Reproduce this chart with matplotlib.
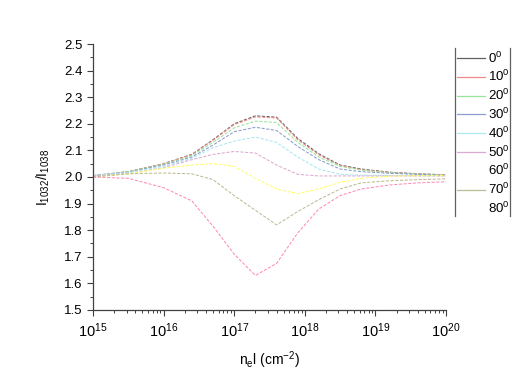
import numpy as np
import matplotlib
matplotlib.use("Agg")
import matplotlib.pyplot as plt
from matplotlib.lines import Line2D
from matplotlib.ticker import LogLocator, MultipleLocator, NullFormatter

plt.rcParams['font.family'] = ['Liberation Sans', 'DejaVu Sans']
plt.rcParams['mathtext.fontset'] = 'custom'
plt.rcParams['mathtext.rm'] = 'Liberation Sans'
plt.rcParams['mathtext.it'] = 'Liberation Sans'

# column density grid (log10 of n_e l)
log_nel = [15, 15.5, 16, 16.4, 16.7, 17.0, 17.3, 17.6, 17.9, 18.2, 18.5, 18.8, 19.2, 19.6, 20]

angles = ["0", "10", "20", "30", "40", "50", "60", "70", "80"]

ratio_0 = [2.005, 2.02, 2.05, 2.085, 2.14, 2.20, 2.23, 2.225, 2.145, 2.087, 2.045, 2.03, 2.018, 2.012, 2.008]
ratio_10 = [2.005, 2.02, 2.05, 2.084, 2.138, 2.197, 2.226, 2.222, 2.14, 2.083, 2.043, 2.028, 2.017, 2.012, 2.008]
ratio_20 = [2.005, 2.02, 2.048, 2.08, 2.13, 2.185, 2.21, 2.205, 2.13, 2.075, 2.04, 2.026, 2.016, 2.011, 2.007]
ratio_30 = [2.005, 2.018, 2.045, 2.075, 2.12, 2.17, 2.187, 2.175, 2.115, 2.065, 2.03, 2.02, 2.014, 2.01, 2.006]
ratio_40 = [2.005, 2.017, 2.04, 2.07, 2.11, 2.135, 2.15, 2.13, 2.075, 2.03, 2.01, 2.007, 2.006, 2.005, 2.005]
ratio_50 = [2.003, 2.012, 2.035, 2.065, 2.085, 2.096, 2.09, 2.045, 2.01, 2.004, 2.004, 2.004, 2.004, 2.004, 2.004]
ratio_60 = [2.0, 2.012, 2.033, 2.045, 2.05, 2.04, 1.995, 1.955, 1.937, 1.955, 1.98, 1.995, 2.003, 2.005, 2.005]
ratio_70 = [2.0, 2.012, 2.015, 2.012, 1.99, 1.93, 1.875, 1.82, 1.87, 1.915, 1.955, 1.978, 1.986, 1.99, 1.993]
ratio_80 = [2.0, 1.995, 1.96, 1.91, 1.815, 1.71, 1.63, 1.675, 1.79, 1.88, 1.93, 1.955, 1.97, 1.978, 1.982]

ratios = [ratio_0, ratio_10, ratio_20, ratio_30, ratio_40, ratio_50, ratio_60, ratio_70, ratio_80]
colors = ["#606060", "#f08888", "#9ae49a", "#8c9ccc", "#aae8f2", "#dcaad0", "#ffff66", "#bcbc96", "#ff8cb8"]
# legend swatch colours (60 and 80 show no swatch in the original)
legend_colors = ["#606060", "#f08888", "#9ae49a", "#8c9ccc", "#aae8f2", "#dcaad0", None, "#bcbc96", None]

nel = 10 ** np.array(log_nel)

fig = plt.figure(figsize=(5.18, 3.72), dpi=100)
ax = fig.add_axes([0.1795, 0.1667, 0.6815, 0.715])

for r, c in zip(ratios, colors):
  ax.plot(nel, r, color=c, lw=0.75, ls=(0, (3, 1.5)))

ax.set_xscale("log")
ax.set_xlim(1e15, 1e20)
ax.set_ylim(1.5, 2.5)
ax.xaxis.set_major_locator(LogLocator(base=10, numticks=10))
ax.xaxis.set_minor_locator(LogLocator(base=10, subs=np.arange(2, 10), numticks=20))
ax.xaxis.set_minor_formatter(NullFormatter())
ax.yaxis.set_major_locator(MultipleLocator(0.1))
ax.yaxis.set_minor_locator(MultipleLocator(0.05))
ax.yaxis.set_major_formatter(plt.FuncFormatter(lambda v, p: "%.1f" % v))

for s in ["top", "right"]:
  ax.spines[s].set_visible(False)
for s in ["left", "bottom"]:
  ax.spines[s].set_color("#404040")
  ax.spines[s].set_linewidth(0.9)
ax.tick_params(which="major", direction="out", length=4, width=0.8, color="#404040", labelsize=9.5)
ax.tick_params(which="minor", direction="out", length=2, width=0.7, color="#404040")
ax.tick_params(axis="x", pad=4, labelsize=10.5)

ax.set_ylabel(r"$\mathregular{I_{1032}/I_{1038}}$", fontsize=10, labelpad=9)
ax.set_xlabel(r"$\mathregular{n_el\ (cm^{-2})}$", fontsize=10, labelpad=7)

# legend box: two vertical rules with swatches and labels
W, H = 518.0, 372.0
fig.add_artist(Line2D([455 / W, 455 / W], [1 - 48 / H, 1 - 216 / H], color="#606060", lw=0.9))
fig.add_artist(Line2D([510 / W, 510 / W], [1 - 48 / H, 1 - 216 / H], color="#606060", lw=0.9))
for i, (a, lc) in enumerate(zip(angles, legend_colors)):
  yy = 1 - (58 + i * 18.8) / H
  if lc is not None:
    fig.add_artist(Line2D([457 / W, 485 / W], [yy, yy], color=lc, lw=0.9))
  fig.text(488 / W, yy, r"$\mathregular{%s^0}$" % a, fontsize=9.5, va="center", ha="left")

fig.savefig("out.png", dpi=100)
